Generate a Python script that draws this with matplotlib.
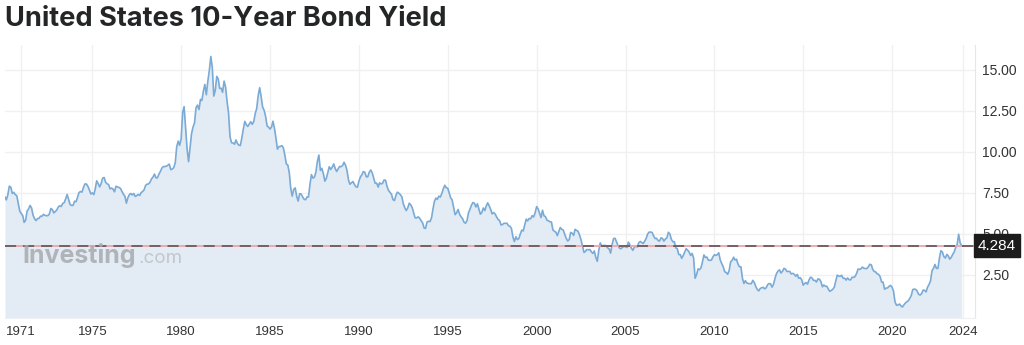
import matplotlib
matplotlib.use("Agg")
import matplotlib.pyplot as plt
import matplotlib.dates as mdates
import numpy as np
import pandas as pd
from matplotlib.transforms import blended_transform_factory

# Monthly 10-year Treasury yields (%), Feb 1970 onward
yields_1970s = [
    7.24, 7.07, 7.39, 7.91, 7.84, 7.46, 7.53, 7.39, 7.33, 6.84, 6.39,
    6.24, 6.11, 5.70, 5.83, 6.39, 6.52, 6.73, 6.58, 6.14, 5.93, 5.81, 5.93,
    5.95, 6.08, 6.07, 6.19, 6.13, 6.11, 6.11, 6.21, 6.55, 6.48, 6.28, 6.36,
    6.46, 6.64, 6.71, 6.67, 6.85, 6.90, 7.13, 7.40, 7.09, 6.79, 6.73, 6.74,
    6.99, 6.96, 7.21, 7.51, 7.58, 7.54, 7.81, 8.04, 8.04, 7.90, 7.68, 7.43,
    7.50, 7.39, 7.73, 8.23, 8.06, 7.86, 8.06, 8.40, 8.43, 8.14, 8.05, 8.00,
    7.74, 7.79, 7.73, 7.56, 7.90, 7.86, 7.83, 7.77, 7.59, 7.41, 7.29, 6.87,
    7.21, 7.39, 7.46, 7.37, 7.46, 7.28, 7.33, 7.40, 7.34, 7.52, 7.58, 7.69,
    7.96, 8.03, 8.04, 8.15, 8.35, 8.46, 8.64, 8.41, 8.42, 8.64, 8.81, 9.01,
    9.10, 9.10, 9.12, 9.18, 9.25, 8.91, 8.95, 9.03, 9.33, 10.30, 10.65, 10.39,
]
yields_1980s = [
    10.80, 12.41, 12.75, 11.47, 10.18, 9.40, 10.25, 11.10, 11.51, 11.75, 12.68, 12.84,
    12.57, 13.19, 13.12, 13.68, 14.10, 13.47, 14.28, 14.94, 15.80, 15.15, 13.39, 13.72,
    14.59, 14.43, 13.86, 13.87, 13.62, 14.30, 13.95, 13.06, 12.34, 10.91, 10.55, 10.54,
    10.46, 10.72, 10.51, 10.40, 10.38, 10.85, 11.38, 11.85, 11.65, 11.54, 11.69, 11.83,
    11.67, 11.84, 12.32, 12.63, 13.41, 13.90, 13.36, 12.72, 12.52, 12.16, 11.57, 11.50,
    11.38, 11.51, 11.86, 11.43, 10.85, 10.16, 10.31, 10.33, 10.37, 10.24, 9.78, 9.26,
    9.19, 8.70, 7.78, 7.30, 7.71, 7.80, 7.30, 7.00, 7.45, 7.43, 7.25, 7.11,
    7.08, 7.25, 7.25, 8.02, 8.61, 8.40, 8.45, 8.76, 9.42, 9.80, 8.86, 8.99,
    8.67, 8.21, 8.37, 8.72, 9.09, 8.92, 9.06, 9.26, 8.98, 8.80, 8.96, 9.11,
    9.09, 9.17, 9.36, 9.18, 8.86, 8.28, 8.02, 8.11, 8.19, 8.01, 7.87, 7.84,
]
yields_1990s = [
    8.21, 8.47, 8.59, 8.79, 8.76, 8.48, 8.47, 8.75, 8.89, 8.72, 8.39, 8.08,
    8.09, 7.85, 8.11, 8.04, 8.07, 8.28, 8.27, 7.90, 7.65, 7.53, 7.42, 7.09,
    7.03, 7.34, 7.54, 7.48, 7.39, 7.26, 6.84, 6.59, 6.42, 6.59, 6.87, 6.77,
    6.60, 6.26, 5.98, 5.97, 6.04, 5.96, 5.81, 5.68, 5.36, 5.33, 5.72, 5.77,
    5.75, 5.97, 6.48, 6.97, 7.18, 7.10, 7.30, 7.24, 7.46, 7.74, 7.96, 7.81,
    7.78, 7.47, 7.20, 7.06, 6.63, 6.17, 6.28, 6.49, 6.20, 6.04, 5.93, 5.71,
    5.65, 5.81, 6.27, 6.51, 6.74, 6.91, 6.87, 6.64, 6.83, 6.53, 6.20, 6.30,
    6.58, 6.42, 6.69, 6.89, 6.71, 6.49, 6.22, 6.30, 6.21, 6.03, 5.88, 5.81,
    5.54, 5.57, 5.65, 5.64, 5.65, 5.50, 5.46, 5.34, 4.81, 4.53, 4.83, 4.65,
    4.72, 5.00, 5.23, 5.18, 5.54, 5.90, 5.79, 5.94, 5.92, 6.11, 6.03, 6.28,
]
yields_2000s = [
    6.66, 6.52, 6.26, 5.99, 6.44, 6.10, 6.05, 5.83, 5.80, 5.74, 5.72, 5.24,
    5.16, 5.10, 4.89, 5.14, 5.39, 5.28, 5.24, 4.97, 4.73, 4.57, 4.65, 5.09,
    5.04, 4.91, 5.28, 5.21, 5.16, 4.93, 4.65, 4.26, 3.87, 3.94, 4.05, 4.03,
    4.05, 3.90, 3.81, 3.96, 3.57, 3.33, 3.98, 4.45, 4.27, 4.29, 4.30, 4.27,
    4.15, 4.08, 3.83, 4.35, 4.72, 4.73, 4.50, 4.28, 4.13, 4.10, 4.19, 4.23,
    4.22, 4.17, 4.50, 4.34, 4.14, 4.00, 4.18, 4.26, 4.20, 4.46, 4.54, 4.47,
    4.42, 4.57, 4.72, 4.99, 5.11, 5.11, 5.09, 4.88, 4.72, 4.73, 4.60, 4.56,
    4.76, 4.72, 4.56, 4.69, 4.75, 5.10, 5.00, 4.67, 4.52, 4.53, 4.15, 4.10,
    3.74, 3.74, 3.51, 3.68, 3.88, 4.10, 4.01, 3.89, 3.69, 3.81, 3.53, 2.30,
    2.52, 2.87, 2.82, 2.93, 3.29, 3.72, 3.56, 3.59, 3.40, 3.39, 3.40, 3.59,
]
yields_2010s = [
    3.73, 3.69, 3.73, 3.85, 3.42, 3.20, 3.01, 2.70, 2.65, 2.54, 2.76, 3.29,
    3.39, 3.58, 3.41, 3.46, 3.17, 3.00, 3.00, 2.30, 1.98, 2.15, 2.01, 1.98,
    1.97, 1.97, 2.17, 2.05, 1.80, 1.62, 1.53, 1.68, 1.72, 1.75, 1.65, 1.72,
    1.91, 1.98, 1.96, 1.76, 1.93, 2.30, 2.58, 2.74, 2.81, 2.62, 2.72, 2.90,
    2.86, 2.71, 2.72, 2.71, 2.56, 2.60, 2.54, 2.42, 2.53, 2.30, 2.33, 2.21,
    1.88, 1.98, 2.04, 1.94, 2.20, 2.36, 2.32, 2.17, 2.17, 2.07, 2.26, 2.24,
    2.09, 1.78, 1.89, 1.81, 1.81, 1.64, 1.50, 1.56, 1.63, 1.76, 2.14, 2.49,
    2.43, 2.42, 2.48, 2.30, 2.30, 2.19, 2.32, 2.21, 2.20, 2.36, 2.35, 2.40,
    2.58, 2.86, 2.84, 2.87, 2.98, 2.91, 2.89, 2.89, 3.00, 3.15, 3.12, 2.83,
    2.71, 2.68, 2.57, 2.53, 2.40, 2.07, 2.06, 1.63, 1.70, 1.71, 1.81, 1.86,
]
yields_2020s = [
    1.76, 1.50, 0.87, 0.66, 0.67, 0.73, 0.62, 0.55, 0.68, 0.79, 0.87, 0.93,
    1.08, 1.26, 1.61, 1.64, 1.62, 1.52, 1.32, 1.28, 1.37, 1.58, 1.56, 1.47,
    1.76, 1.93, 2.13, 2.75, 2.90, 3.14, 2.90, 2.90, 3.52, 3.98, 3.89, 3.62,
    3.53, 3.75, 3.66, 3.46, 3.57, 3.75, 3.90, 4.17, 4.38, 4.98, 4.45, 4.284,
]

first_month = "1970-02-01"
latest_yield = 4.284
tick_years = [1971, 1975, 1980, 1985, 1990, 1995, 2000, 2005, 2010, 2015, 2020, 2024]
y_ticks = [2.5, 5.0, 7.5, 10.0, 12.5, 15.0]

title = "United States 10-Year Bond Yield"

yields = np.array(yields_1970s + yields_1980s + yields_1990s
                  + yields_2000s + yields_2010s + yields_2020s)
dates = pd.date_range(first_month, periods=len(yields), freq="MS")
xd = mdates.date2num(dates.to_pydatetime())

plt.rcParams["lines.scale_dashes"] = False

W, H = 1024, 345
fig = plt.figure(figsize=(W / 100, H / 100), dpi=100)
fig.patch.set_facecolor("white")

left_px, right_px, top_px, bottom_px = 5, 975, 45, 318
ax = fig.add_axes([left_px / W, 1 - bottom_px / H,
                   (right_px - left_px) / W, (bottom_px - top_px) / H])

y_lo, y_hi = -0.12, 16.5
x_lo = xd[0]
x_hi = mdates.date2num(pd.Timestamp("2024-09-01").to_pydatetime())
ax.set_xlim(x_lo, x_hi)
ax.set_ylim(y_lo, y_hi)

# area series
ax.fill_between(xd, yields, y_lo, color="#e3ecf4", lw=0, zorder=1)
ax.plot(xd, yields, color="#7aaad6", lw=1.2, zorder=3)

# grid and ticks
tick_pos = [mdates.date2num(pd.Timestamp(f"{y}-01-01").to_pydatetime()) for y in tick_years]
ax.set_xticks(tick_pos)
ax.set_xticklabels([str(y) for y in tick_years])
ax.set_yticks(y_ticks)
ax.set_yticklabels([f"{v:.2f}" for v in y_ticks])
ax.grid(True, color="#f0f0f0", lw=1, zorder=0)
ax.set_axisbelow(True)

ax.yaxis.tick_right()
ax.tick_params(axis="both", length=0, colors="#333333")
ax.tick_params(axis="y", pad=5, labelsize=10)
ax.tick_params(axis="x", pad=6, labelsize=9.5)
for lab in ax.get_xticklabels() + ax.get_yticklabels():
    lab.set_fontfamily("Liberation Sans")

for side in ("top", "left"):
    ax.spines[side].set_visible(False)
ax.spines["right"].set_color("#e4e6ea")
ax.spines["bottom"].set_color("#eef0f3")

# latest-value reference line
ax.axhline(latest_yield, color="#eba6a9", lw=1.3, zorder=4)
ax.axhline(latest_yield, color="#6a5c61", lw=1.3, dashes=(8, 5), zorder=5)

trans = blended_transform_factory(ax.transAxes, ax.transData)
ax.text(1.003, latest_yield, f"{latest_yield:.3f}", transform=trans,
        ha="left", va="center", color="white", fontsize=11,
        family="Liberation Sans", zorder=10, clip_on=False,
        bbox=dict(boxstyle="square,pad=0.28", fc="#1c1c1c", ec="#1c1c1c"))

# watermark
fig.text(22 / W, 1 - 263 / H, "Investing", fontsize=18, fontweight="bold",
         family="Inter", color="#a7abaf", alpha=0.85, va="baseline", zorder=6)
fig.text(139 / W, 1 - 263 / H, ".com", fontsize=13.5, family="Inter",
         color="#bcc0c4", alpha=0.85, va="baseline", zorder=6)

fig.text(5 / W, 1 - 6 / H, title, fontsize=19.6, fontweight="bold",
         family="Inter", color="#232526", va="top", ha="left")

fig.savefig("out.png", dpi=100, facecolor="white")
